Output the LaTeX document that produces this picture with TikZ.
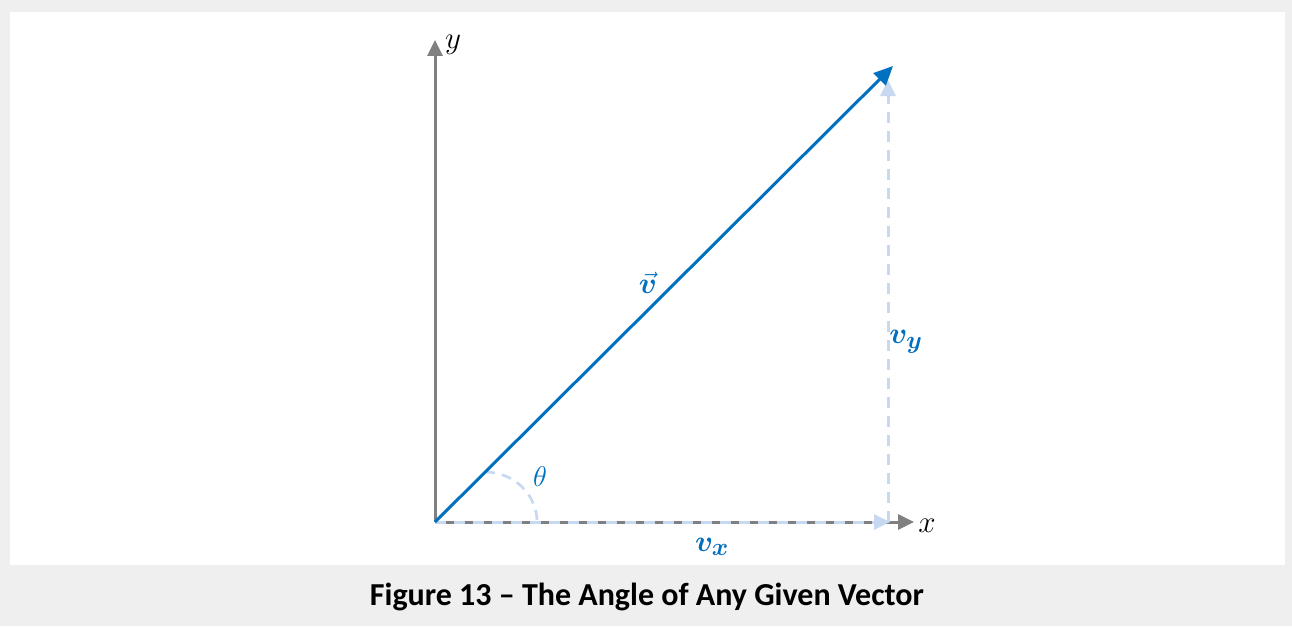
\documentclass[tikz,border=0pt]{standalone}
\usepackage{amsmath,bm}
\usepackage{graphicx}
\usepackage{fontspec}
\newfontfamily\capfont{Carlito}
\usetikzlibrary{arrows.meta}
\definecolor{bgray}{HTML}{EFEFEF}
\definecolor{axisgray}{HTML}{808080}
\definecolor{vblue}{HTML}{0070C0}
\definecolor{lblue}{HTML}{C6D9F1}
\newcommand{\biglbl}[2]{\scalebox{#1}{\fontsize{24.88}{28}\selectfont #2}}
\tikzset{
  axis/.style={draw=axisgray, line width=3pt, -{Triangle[length=16pt,width=15pt]}},
  vec/.style={draw=vblue, line width=3pt, -{Triangle[length=19pt,width=17pt]}},
  comp/.style={draw=lblue, line width=3pt, dash pattern=on 11pt off 8pt, -{Triangle[length=16pt,width=15pt]}},
  arcst/.style={draw=lblue, line width=2.6pt, dash pattern=on 10pt off 7pt},
  lbl/.style={text=vblue, inner sep=0pt},
  axlbl/.style={inner sep=0pt},
}
\begin{document}
\begin{tikzpicture}[x=1pt,y=-1pt]
\useasboundingbox (0,0) rectangle (1292,626);
\fill[bgray] (0,0) rectangle (1292,626);
\fill[white] (10,12) rectangle (1285,565);
\coordinate (O) at (435,522);
\coordinate (Y) at (435,40);
\coordinate (X) at (914,522);
\coordinate (V) at (893,66);
\coordinate (VyB) at (888,522);
\coordinate (VyT) at (888,80);
\coordinate (Vx) at (890,522);
% axes
\draw[axis] (O) -- (X);
\draw[axis] (O) -- (Y);
% components
\draw[comp] (O) -- (Vx);
\draw[comp] (VyB) -- (VyT);
% angle arc
\draw[arcst] (485,472) arc[start angle=-90, end angle=0, x radius=52, y radius=50];
% vector
\draw[vec] (O) -- (V);
% labels
\node[axlbl] (ylbl) at (453,45) {\biglbl{1.25}{$y$}};
\node[axlbl] (xlbl) at (927,526) {\biglbl{1.25}{$x$}};
\node[lbl] (th) at (540,477) {\biglbl{1.15}{$\theta$}};
\node[lbl] (vl) at (648,283) {\biglbl{1.2}{$\vec{\bm v}$}};
\node[lbl] (vyl) at (906,342) {\biglbl{1.2}{$\bm v_{\bm y}$}};
\node[lbl] (vxl) at (712,547) {\biglbl{1.2}{$\bm v_{\bm x}$}};
\node[font=\capfont\bfseries\fontsize{32}{36}\selectfont, inner sep=0pt] (cap) at (647,597) {Figure 13 – The Angle of Any Given Vector};
\end{tikzpicture}
\end{document}
